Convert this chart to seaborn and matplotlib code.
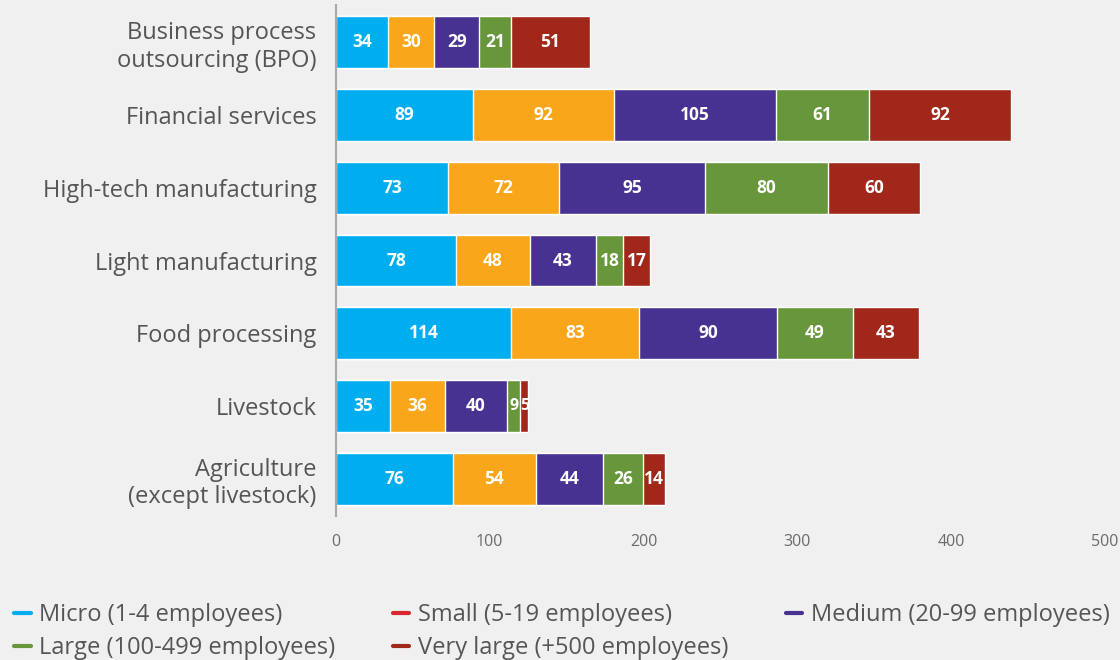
import numpy as np
import pandas as pd
import seaborn as sns
import matplotlib.pyplot as plt
from matplotlib.lines import Line2D

# data
categories = [
    "Business process\noutsourcing (BPO)",
    "Financial services",
    "High-tech manufacturing",
    "Light manufacturing",
    "Food processing",
    "Livestock",
    "Agriculture\n(except livestock)",
]
micro = [34, 89, 73, 78, 114, 35, 76]
small = [30, 92, 72, 48, 83, 36, 54]
medium = [29, 105, 95, 43, 90, 40, 44]
large = [21, 61, 80, 18, 49, 9, 26]
very_large = [51, 92, 60, 17, 43, 5, 14]

series_names = [
    "Micro (1-4 employees)",
    "Small (5-19 employees)",
    "Medium (20-99 employees)",
    "Large (100-499 employees)",
    "Very large (+500 employees)",
]
bar_colors = ["#00aeef", "#f9a61a", "#473292", "#67973a", "#a0271a"]
legend_colors = ["#00aeef", "#d7282f", "#473292", "#67973a", "#a0271a"]

# style
BG = "#f0f0f0"
sns.set_style("white", {"axes.facecolor": BG, "figure.facecolor": BG})
plt.rcParams["font.family"] = ["Open Sans", "DejaVu Sans"]

df = pd.DataFrame(
    {
        "category": categories,
        series_names[0]: micro,
        series_names[1]: small,
        series_names[2]: medium,
        series_names[3]: large,
        series_names[4]: very_large,
    }
)

fig = plt.figure(figsize=(11.2, 6.6), dpi=100)
ax = fig.add_axes([0.3, 1 - 516 / 660, 0.7, 511 / 660])

# stacked bars: draw cumulative totals from outermost to innermost
cum = df[series_names].cumsum(axis=1)
for i in range(len(series_names) - 1, -1, -1):
    sns.barplot(
        x=cum[series_names[i]],
        y=df["category"],
        color=bar_colors[i],
        orient="h",
        width=0.71,
        saturation=1,
        ax=ax,
    )

# value labels centred in each segment
for i, name in enumerate(series_names):
    for j, v in enumerate(df[name]):
        ax.text(
            cum[name][j] - v / 2, j, str(v),
            ha="center", va="center", color="white",
            fontsize=12.5 if v >= 10 else 11.5, fontweight="bold",
        )

ax.set_xlim(0, 510)
ax.set_ylim(6.51, -0.51)
ax.set_xticks([0, 100, 200, 300, 400, 500])
ax.set_xlabel("")
ax.set_ylabel("")
for s in ["top", "right", "bottom"]:
    ax.spines[s].set_visible(False)
ax.spines["left"].set_color("#a8a8a8")
ax.spines["left"].set_linewidth(1.5)
ax.tick_params(axis="x", length=0, pad=13, labelsize=11.5, labelcolor="#6a6a6a")
ax.tick_params(axis="y", length=0, pad=14, labelsize=17, labelcolor="#555555")

# legend (row-wise order)
handles = [Line2D([0], [0], color=c, lw=3) for c in legend_colors]
order = [0, 3, 1, 4, 2]
fig.legend(
    [handles[k] for k in order],
    [series_names[k] for k in order],
    loc="lower left",
    bbox_to_anchor=(0.0, -0.022),
    ncol=3,
    frameon=False,
    fontsize=17,
    labelcolor="#555555",
    handlelength=0.7,
    handletextpad=0.35,
    columnspacing=2.45,
    labelspacing=0.4,
    borderaxespad=0.2,
)

fig.savefig("out.png", dpi=100, facecolor=BG)
